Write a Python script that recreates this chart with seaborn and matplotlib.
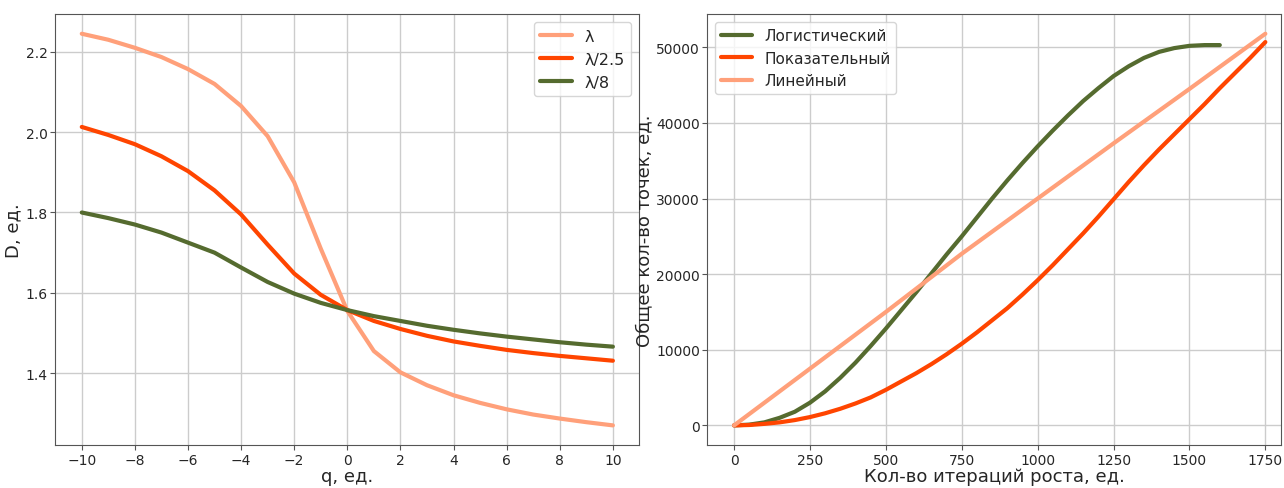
import matplotlib
matplotlib.use("Agg")
import matplotlib.pyplot as plt
import seaborn as sns

# Left panel: D(q)
q = list(range(-10, 11))
d_lam = [2.245, 2.230, 2.210, 2.187, 2.157, 2.120, 2.065, 1.990, 1.875, 1.710, 1.555,
         1.455, 1.402, 1.370, 1.345, 1.326, 1.310, 1.297, 1.287, 1.278, 1.270]
d_lam25 = [2.013, 1.993, 1.970, 1.940, 1.903, 1.855, 1.795, 1.720, 1.648, 1.595, 1.557,
           1.530, 1.510, 1.493, 1.479, 1.468, 1.458, 1.450, 1.443, 1.437, 1.431]
d_lam8 = [1.800, 1.786, 1.770, 1.750, 1.725, 1.700, 1.663, 1.627, 1.598, 1.575, 1.557,
          1.542, 1.530, 1.518, 1.508, 1.499, 1.491, 1.484, 1.477, 1.471, 1.466]

# Right panel: growth models
it_log = list(range(0, 1601, 50))
n_log = [0, 100, 400, 1000, 1800, 3000, 4500, 6300, 8300, 10500, 12800, 15200, 17600,
         20100, 22600, 25000, 27500, 30000, 32400, 34700, 36900, 39000, 41000, 42900,
         44600, 46200, 47500, 48600, 49400, 49900, 50200, 50300, 50300]
it_exp = list(range(0, 1751, 50))
n_exp = [0, 50, 200, 400, 700, 1100, 1600, 2200, 2900, 3700, 4700, 5800, 6900, 8100,
         9400, 10800, 12300, 13900, 15500, 17300, 19200, 21200, 23300, 25400, 27600,
         29900, 32200, 34400, 36500, 38500, 40500, 42500, 44600, 46600, 48600, 50700]
it_lin = [0, 250, 500, 750, 1000, 1250, 1500, 1750]
n_lin = [0, 7500, 15000, 22700, 30000, 37300, 44500, 51800]

LIGHT = "#ffa07a"
RED = "#ff4500"
GREEN = "#556b2f"

sns.set_style("ticks")
plt.rcParams["font.family"] = ["DejaVu Sans"]

fig = plt.figure(figsize=(12.84, 4.89), dpi=100)
ax1 = fig.add_axes([0.043, 0.088, 0.455, 0.881])
ax2 = fig.add_axes([0.551, 0.088, 0.447, 0.881])

for ax in (ax1, ax2):
    ax.grid(True, color="#cccccc", linewidth=1)
    ax.set_axisbelow(True)
    for s in ax.spines.values():
        s.set_color("#555555")
    ax.tick_params(labelsize=10, color="#555555", pad=2, length=3.5)

sns.lineplot(x=q, y=d_lam, ax=ax1, color=LIGHT, linewidth=3, label="λ")
sns.lineplot(x=q, y=d_lam25, ax=ax1, color=RED, linewidth=3, label="λ/2.5")
sns.lineplot(x=q, y=d_lam8, ax=ax1, color=GREEN, linewidth=3, label="λ/8")
ax1.set_xticks(range(-10, 11, 2))
ax1.set_xlim(-11, 11)
ax1.set_yticks([1.4, 1.6, 1.8, 2.0, 2.2])
ax1.set_xlabel("q, ед.", fontsize=13, labelpad=0)
ax1.set_ylabel("D, ед.", fontsize=13, labelpad=2)
ax1.legend(loc="upper right", fontsize=11.5)

sns.lineplot(x=it_log, y=n_log, ax=ax2, color=GREEN, linewidth=3, label="Логистический")
sns.lineplot(x=it_exp, y=n_exp, ax=ax2, color=RED, linewidth=3, label="Показательный")
sns.lineplot(x=it_lin, y=n_lin, ax=ax2, color=LIGHT, linewidth=3, label="Линейный")
ax2.set_xticks(range(0, 1751, 250))
ax2.set_xlim(-87.5, 1803)
ax2.set_yticks(range(0, 50001, 10000))
ax2.set_xlabel("Кол-во итераций роста, ед.", fontsize=13, labelpad=0)
ax2.set_ylabel("Общее кол-во точек, ед.", fontsize=13, labelpad=2)
ax2.legend(loc="upper left", fontsize=11)

fig.savefig("out.png", dpi=100, facecolor="white")
